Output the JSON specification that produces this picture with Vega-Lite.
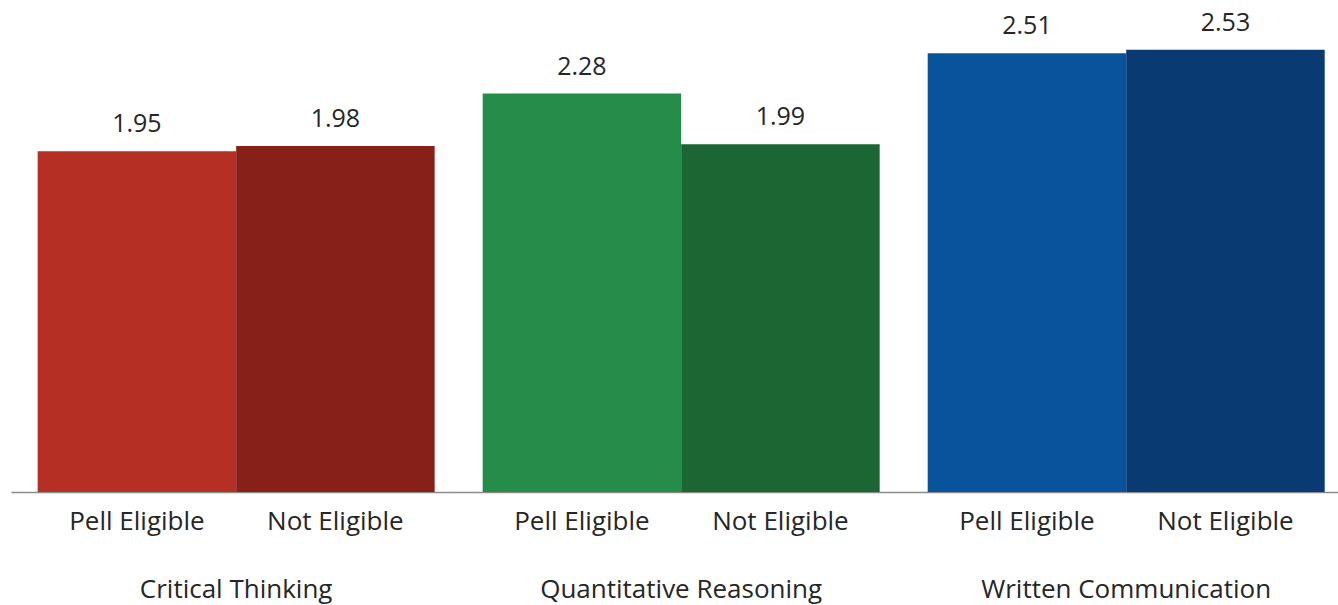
{
  "$schema": "https://vega.github.io/schema/vega-lite/v6.json",
  "width": 1327,
  "height": 492,
  "autosize": {"type": "none"},
  "padding": {"left": 11, "top": 0, "right": 0, "bottom": 113},
  "background": "white",
  "config": {"view": {"stroke": null}, "font": "Open Sans"},
  "data": {
    "values": [
      {"group": "Critical Thinking", "sub": "Pell Eligible", "value": 1.95},
      {"group": "Critical Thinking", "sub": "Not Eligible", "value": 1.98},
      {"group": "Quantitative Reasoning", "sub": "Pell Eligible", "value": 2.28},
      {"group": "Quantitative Reasoning", "sub": "Not Eligible", "value": 1.99},
      {"group": "Written Communication", "sub": "Pell Eligible", "value": 2.51},
      {"group": "Written Communication", "sub": "Not Eligible", "value": 2.53}
    ]
  },
  "transform": [{"calculate": "datum.group + '|' + datum.sub", "as": "key"}],
  "encoding": {
    "x": {
      "field": "group",
      "type": "nominal",
      "sort": null,
      "scale": {"paddingInner": 0.1079, "paddingOuter": 0.0449, "align": 0.667},
      "axis": {
        "title": null,
        "ticks": false,
        "domainColor": "#8c8c8c",
        "domainWidth": 1.5,
        "labelFontSize": 26,
        "labelColor": "#262626",
        "labelPadding": 84,
        "labelBaseline": "top",
        "labelAngle": 0,
        "labelLimit": 0,
        "labelFont": "Open Sans"
      }
    },
    "xOffset": {
      "field": "sub",
      "type": "nominal",
      "sort": ["Pell Eligible", "Not Eligible"],
      "scale": {"paddingInner": 0, "paddingOuter": 0}
    }
  },
  "layer": [
    {
      "mark": {"type": "bar"},
      "encoding": {
        "y": {"field": "value", "type": "quantitative", "scale": {"domain": [0, 2.815], "nice": false, "zero": true}, "axis": null},
        "color": {
          "field": "key",
          "type": "nominal",
          "scale": {
            "domain": [
              "Critical Thinking|Pell Eligible", "Critical Thinking|Not Eligible",
              "Quantitative Reasoning|Pell Eligible", "Quantitative Reasoning|Not Eligible",
              "Written Communication|Pell Eligible", "Written Communication|Not Eligible"
            ],
            "range": ["#b52f24", "#88201a", "#258c4a", "#1b6633", "#09529c", "#093a72"]
          },
          "legend": null
        }
      }
    },
    {
      "mark": {"type": "text", "fontSize": 25, "color": "#262626", "baseline": "middle", "dy": -27},
      "encoding": {
        "y": {"field": "value", "type": "quantitative"},
        "text": {"field": "value", "type": "quantitative", "format": ".2f"}
      }
    },
    {
      "mark": {"type": "text", "fontSize": 26, "color": "#262626", "baseline": "middle", "dy": 30},
      "encoding": {
        "y": {"datum": 0, "type": "quantitative"},
        "text": {"field": "sub", "type": "nominal"}
      }
    }
  ]
}
